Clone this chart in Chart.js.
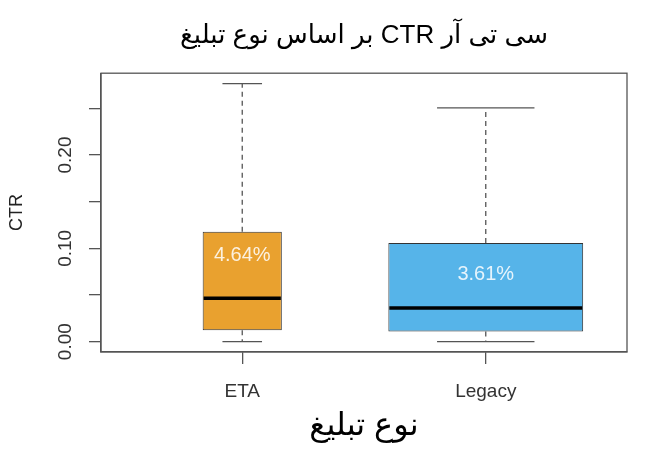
<!DOCTYPE html>
<html>
<head>
<meta charset="utf-8">
<script src="https://cdn.jsdelivr.net/npm/chart.js@4.4.1/dist/chart.umd.min.js"></script>
<style>
  body { margin: 0; background: #fff; }
  #wrap { width: 645px; height: 465px; }
</style>
</head>
<body>
<div id="wrap"><canvas id="myChart" width="645" height="465"></canvas></div>
<script>
// box plot numbers
var categories = ["ETA", "Legacy"];
var whiskerLow = [0.0, 0.0];
var q1 = [0.0121, 0.0110];
var median = [0.0464, 0.0361];
var q3 = [0.1177, 0.1056];
var whiskerHigh = [0.2766, 0.2505];

var yTicks = [0, 0.05, 0.10, 0.15, 0.20, 0.25];
var yTickLabels = ["0.00", "", "0.10", "", "0.20", ""];

var chartTitle = "سی تی آر CTR بر اساس نوع تبلیغ";
var xTitle = "نوع تبلیغ";
var yTitle = "CTR";

const boxColors = ["#E9A12F", "#56B4E9"];
const fontFam = '"Liberation Sans", "DejaVu Sans", sans-serif';

// persian text: right-to-left embedding so the words come out in reading order
function rtl(s) {
  return "\u202B" + s + "\u202C";
}

const boxExtras = {
  id: "boxExtras",
  beforeDatasetsDraw(chart) {
    const ctx = chart.ctx;
    const y = chart.scales.y;
    ctx.save();
    ctx.strokeStyle = "#555";
    ctx.lineWidth = 1.3;
    for (let i = 0; i < categories.length; i++) {
      const bar = chart.getDatasetMeta(i).data[0];
      const cx = bar.x, w = bar.width;
      // dashed whiskers
      ctx.setLineDash([5, 4]);
      ctx.beginPath();
      ctx.moveTo(cx, y.getPixelForValue(q3[i]));
      ctx.lineTo(cx, y.getPixelForValue(whiskerHigh[i]));
      ctx.moveTo(cx, y.getPixelForValue(q1[i]));
      ctx.lineTo(cx, y.getPixelForValue(whiskerLow[i]));
      ctx.stroke();
      // caps
      ctx.setLineDash([]);
      ctx.beginPath();
      [whiskerHigh[i], whiskerLow[i]].forEach(v => {
        const py = y.getPixelForValue(v);
        ctx.moveTo(cx - w / 4, py);
        ctx.lineTo(cx + w / 4, py);
      });
      ctx.stroke();
    }
    ctx.restore();
  },
  afterDatasetsDraw(chart) {
    const ctx = chart.ctx;
    const y = chart.scales.y;
    const a = chart.chartArea;
    ctx.save();
    for (let i = 0; i < categories.length; i++) {
      const bar = chart.getDatasetMeta(i).data[0];
      const cx = bar.x, w = bar.width;
      const my = y.getPixelForValue(median[i]);
      ctx.strokeStyle = "#000";
      ctx.lineWidth = 3.5;
      ctx.beginPath();
      ctx.moveTo(cx - w / 2 + 1, my);
      ctx.lineTo(cx + w / 2 - 1, my);
      ctx.stroke();
      // percent label inside the box
      ctx.fillStyle = "rgba(255,255,255,0.85)";
      ctx.font = "20px " + fontFam;
      ctx.textAlign = "center";
      ctx.textBaseline = "middle";
      ctx.fillText((median[i] * 100).toFixed(2) + "%", cx, y.getPixelForValue(median[i] * 2));
    }
    // frame round the plot
    ctx.strokeStyle = "#555";
    ctx.lineWidth = 1.3;
    ctx.strokeRect(a.left, a.top, a.right - a.left, a.bottom - a.top);
    ctx.restore();
  }
};

new Chart("myChart", {
  type: "bar",
  data: {
    datasets: categories.map((c, i) => ({
      label: c,
      data: [{ x: i + 1, y: [q1[i], q3[i]] }],
      backgroundColor: boxColors[i],
      borderColor: "#333",
      borderWidth: 1,
      borderSkipped: false,
      grouped: false,
      categoryPercentage: 1,
      barPercentage: i === 0 ? 0.325 : 0.8
    }))
  },
  options: {
    responsive: false,
    animation: false,
    layout: { padding: { left: 0, right: 18, top: 0, bottom: 0 } },
    plugins: {
      legend: { display: false },
      tooltip: { enabled: false },
      title: {
        display: true,
        fullSize: false,
        text: rtl(chartTitle),
        color: "#000",
        font: { family: fontFam, size: 26, weight: "normal" },
        padding: { top: 20, bottom: 22 }
      }
    },
    scales: {
      x: {
        type: "linear",
        offset: false,
        min: 0.42,
        max: 2.58,
        afterBuildTicks: s => { s.ticks = categories.map((c, i) => ({ value: i + 1 })); },
        afterFit: s => { s.height = 113; },
        ticks: {
          callback: v => categories[v - 1],
          color: "#333",
          font: { family: fontFam, size: 19 },
          padding: 16,
          maxRotation: 0
        },
        grid: { offset: false, drawOnChartArea: false, drawTicks: true, tickLength: 12, color: "#555", lineWidth: 1.3 },
        border: { display: true, color: "#555", width: 1.3 },
        title: {
          display: true,
          text: rtl(xTitle),
          color: "#000",
          font: { family: fontFam, size: 32 },
          padding: { top: 0, bottom: 20 }
        }
      },
      y: {
        min: -0.0111,
        max: 0.2877,
        afterBuildTicks: s => { s.ticks = yTicks.map(v => ({ value: v })); },
        afterFit: s => { s.width = 101; },
        ticks: {
          callback: (v, i) => yTickLabels[i],
          color: "#333",
          font: { family: fontFam, size: 19 },
          minRotation: 90,
          maxRotation: 90,
          crossAlign: "center",
          padding: 5
        },
        grid: { drawOnChartArea: false, drawTicks: true, tickLength: 12, color: "#555", lineWidth: 1.3 },
        border: { display: true, color: "#555", width: 1.3 },
        title: {
          display: true,
          text: yTitle,
          color: "#222",
          font: { family: fontFam, size: 18 },
          padding: { top: 6, bottom: 0 }
        }
      }
    }
  },
  plugins: [boxExtras]
});
</script>
</body>
</html>
